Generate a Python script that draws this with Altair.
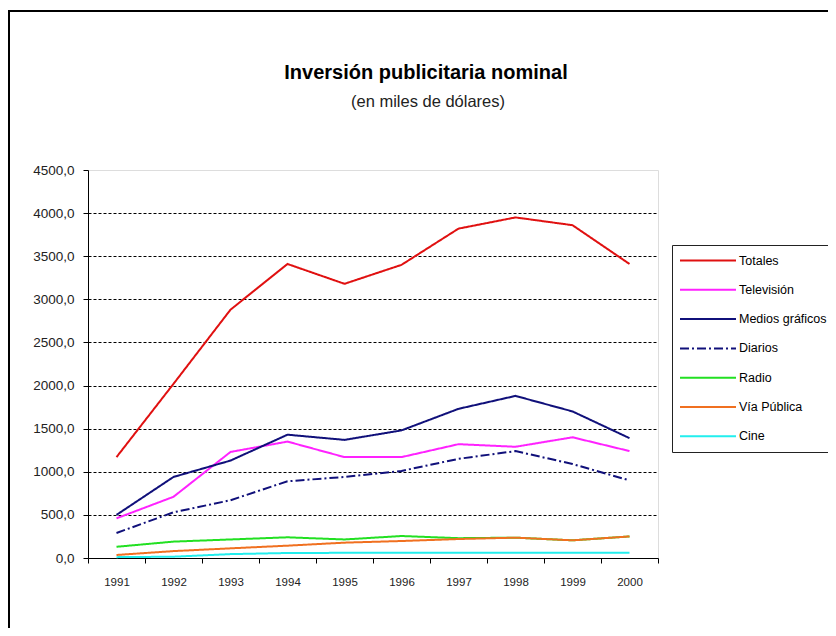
import altair as alt
import pandas as pd

years = ["1991", "1992", "1993", "1994", "1995", "1996", "1997", "1998", "1999", "2000"]
series_names = ["Totales", "Televisión", "Medios gráficos", "Diarios", "Radio", "Vía Pública", "Cine"]
totales = [1170, 2020, 2880, 3410, 3180, 3400, 3820, 3950, 3860, 3410]
television = [460, 710, 1230, 1350, 1170, 1170, 1320, 1290, 1400, 1240]
medios_graficos = [500, 940, 1130, 1430, 1370, 1480, 1730, 1880, 1700, 1390]
diarios = [290, 530, 670, 890, 940, 1010, 1150, 1240, 1090, 900]
radio = [130, 190, 215, 240, 215, 255, 230, 236, 205, 250]
via_publica = [35, 80, 112, 143, 178, 197, 220, 236, 205, 250]
cine = [10, 15, 45, 58, 60, 60, 60, 60, 60, 60]
series_colors = ["#e01010", "#ff22ff", "#10107a", "#10107a", "#22e022", "#f07020", "#22eeee"]
series_dashes = [[1, 0], [1, 0], [1, 0], [9, 3, 2, 3], [1, 0], [1, 0], [1, 0]]
y_ticks = [0, 500, 1000, 1500, 2000, 2500, 3000, 3500, 4000, 4500]
title_text = "Inversión publicitaria nominal"
subtitle_text = "(en miles de dólares)"

values = [totales, television, medios_graficos, diarios, radio, via_publica, cine]
rows = []
for name, vals in zip(series_names, values):
    for yr, v in zip(years, vals):
        rows.append({"serie": name, "anio": yr, "valor": v})
df = pd.DataFrame(rows)

FONT = "Liberation Sans"

legend = alt.Legend(
    title=None, orient="none", legendX=584, legendY=75,
    symbolType="stroke", symbolSize=3136, symbolStrokeWidth=2,
    clipHeight=17, rowPadding=12.3, padding=7,
    strokeColor="#222222", fillColor="white", cornerRadius=0,
    labelFont=FONT, labelFontSize=12.5, labelColor="black", labelOffset=2,
)

lines = alt.Chart(df).mark_line(strokeWidth=2).encode(
    x=alt.X("anio:O", sort=years,
            scale=alt.Scale(type="band", paddingInner=0, paddingOuter=0),
            axis=alt.Axis(title=None, labelAngle=0, tickBand="extent",
                          tickSize=5, tickColor="black", domainColor="black",
                          labelFont=FONT, labelFontSize=11.5, labelColor="#222",
                          labelPadding=13, grid=False)),
    y=alt.Y("valor:Q", scale=alt.Scale(domain=[0, 4500], nice=False),
            axis=alt.Axis(title=None, values=y_ticks,
                          labelExpr="replace(format(datum.value, '.1f'), '.', ',')",
                          tickSize=5, tickColor="black", domainColor="black",
                          labelFont=FONT, labelFontSize=13.5, labelColor="#222",
                          labelPadding=9,
                          grid=True, gridColor="black", gridDash=[3, 2], gridWidth=1,
                          gridOpacity={"condition": {"test": "datum.value === 4500 || datum.value === 0", "value": 0}, "value": 1})),
    color=alt.Color("serie:N", sort=series_names,
                    scale=alt.Scale(domain=series_names, range=series_colors),
                    legend=legend),
    strokeDash=alt.StrokeDash("serie:N", sort=series_names,
                              scale=alt.Scale(domain=series_names, range=series_dashes),
                              legend=legend),
    order=alt.Order("serie:N"),
)

frame = alt.Chart(alt.Data(values=[{}])).mark_rect(
    filled=False, stroke="black", strokeWidth=2
).encode(
    x=alt.value(-79), x2=alt.value(900), y=alt.value(-159), y2=alt.value(800)
)

title = alt.Chart(alt.Data(values=[{}])).mark_text(
    text=title_text, font=FONT, fontSize=20, fontWeight="bold", color="black",
    align="center", baseline="middle"
).encode(x=alt.value(338), y=alt.value(-97))

subtitle = alt.Chart(alt.Data(values=[{}])).mark_text(
    text=subtitle_text, font=FONT, fontSize=16.5, color="#222",
    align="center", baseline="middle"
).encode(x=alt.value(340), y=alt.value(-68))

chart = alt.layer(frame, title, subtitle, lines).properties(
    width=570, height=388,
    autosize="none",
    padding={"left": 80, "top": 162, "right": 170, "bottom": 70},
).configure_view(stroke="#808080", strokeWidth=1).configure(background="white")

chart.save("out.html", embed_options={"renderer": "svg", "actions": False})
